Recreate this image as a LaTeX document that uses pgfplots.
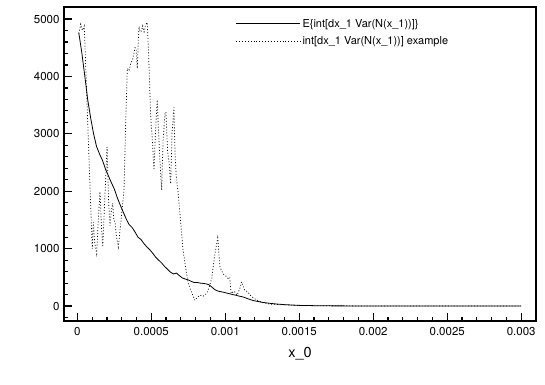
\documentclass[border=0pt]{standalone}
\usepackage{fontspec}
\setmainfont{TeX Gyre Heros}
\usepackage{pgfplots}
\pgfplotsset{compat=1.18}

\pgfplotstableread{
x y
0.00001 4760
0.00003 4420
0.00005 4020
0.00007 3600
0.00009 3280
0.00011 3000
0.00013 2780
0.00015 2650
0.00017 2540
0.00019 2390
0.00021 2270
0.00023 2150
0.00025 2040
0.00027 1890
0.00029 1760
0.00031 1640
0.00033 1520
0.00035 1420
0.00037 1370
0.00039 1290
0.00041 1200
0.00043 1160
0.00045 1090
0.00047 1030
0.00049 980
0.00051 920
0.00053 850
0.00055 800
0.00057 750
0.00059 690
0.00061 640
0.00063 590
0.00065 560
0.00067 575
0.00069 530
0.00071 490
0.00073 470
0.00075 455
0.00077 430
0.00079 410
0.00081 412
0.00083 400
0.00085 395
0.00087 388
0.00089 370
0.00091 330
0.00093 285
0.00095 262
0.00097 250
0.00099 240
0.00101 226
0.00103 215
0.00105 200
0.00107 190
0.00109 176
0.00111 165
0.00113 150
0.00115 130
0.00117 112
0.00119 96
0.00121 85
0.00123 75
0.00125 65
0.00128 55
0.00131 45
0.00135 35
0.0014 25
0.00145 18
0.0015 12
0.0016 7
0.0017 4
0.0018 3
0.002 1
0.0025 0
0.003 0
}\meancurve

\pgfplotstableread{
x y
0.00001 4750
0.000023 4910
0.000034 4800
0.000047 4880
0.000101 1000
0.000108 1460
0.000118 1100
0.000131 910
0.000142 1500
0.000153 1990
0.000163 1400
0.000172 1030
0.000186 1900
0.000201 2770
0.000212 1800
0.000221 1400
0.000230 1650
0.000239 1790
0.000247 1500
0.000255 1460
0.000265 1200
0.000277 1030
0.000296 1500
0.000316 2050
0.000327 3200
0.000338 4140
0.000350 4100
0.000361 4230
0.000372 4280
0.000382 4400
0.000390 4500
0.000397 4490
0.000405 4140
0.000412 4600
0.000417 4870
0.000425 4780
0.000433 4790
0.000442 4880
0.000452 4750
0.000460 4900
0.000473 4940
0.000483 4300
0.000496 3300
0.000507 2900
0.000518 2370
0.000528 3000
0.000540 3590
0.000548 3100
0.000557 2600
0.000570 2020
0.000580 2900
0.000592 3350
0.000599 3380
0.000610 2700
0.000620 2500
0.000631 2130
0.000640 3000
0.000653 3460
0.000660 2700
0.000667 2310
0.000680 2000
0.000694 1610
0.000712 1030
0.000730 700
0.000750 390
0.000770 250
0.000795 100
0.000810 150
0.000829 190
0.000850 170
0.000874 220
0.000890 320
0.000908 480
0.000930 910
0.000949 1190
0.000964 680
0.000975 620
0.000986 560
0.001005 520
0.00102 480
0.00103 500
0.00104 220
0.00106 260
0.00108 190
0.00110 320
0.00111 420
0.00113 280
0.00115 250
0.00118 160
0.00121 110
0.00125 60
0.0013 35
0.0014 20
0.0015 10
0.0017 5
0.002 2
0.0025 0
0.003 0
}\samplecurve

\begin{document}
\begin{tikzpicture}
\begin{axis}[
    name=ax,
    scale only axis,
    width=472pt, height=314pt,
    xmin=-0.00009, xmax=0.0031,
    ymin=-260, ymax=5210,
    axis line style={line width=1.5pt},
    tick pos=left,
    tick align=inside,
    major tick length=8pt,
    minor tick length=4pt,
    every tick/.style={black, line width=1.2pt},
    xtick={0,0.0005,0.001,0.0015,0.002,0.0025,0.003},
    xticklabels={0,0.0005,0.001,0.0015,0.002,0.0025,0.003},
    minor xtick={0.0001,0.0002,0.0003,0.0004,0.0006,0.0007,0.0008,0.0009,
                 0.0011,0.0012,0.0013,0.0014,0.0016,0.0017,0.0018,0.0019,
                 0.0021,0.0022,0.0023,0.0024,0.0026,0.0027,0.0028,0.0029},
    ytick={0,1000,2000,3000,4000,5000},
    minor ytick={-200,200,400,600,800,1200,1400,1600,1800,2200,2400,2600,2800,
                 3200,3400,3600,3800,4200,4400,4600,4800},
    scaled x ticks=false,
    /pgf/number format/1000 sep={},
    /pgf/number format/assume math mode=true,
    ticklabel style={font=\fontsize{11.5}{13}\selectfont},
    xticklabel style={yshift=-3pt},
    yticklabel style={xshift=-1pt},
    xlabel={x\_0},
    xlabel style={font=\fontsize{14.5}{16}\selectfont, yshift=-4pt},
    legend style={draw=none, fill=none, at={(0.357,0.975)}, anchor=north west,
                  font=\fontsize{11}{13}\selectfont, row sep=4pt},
    legend cell align=left,
    legend image code/.code={\draw[#1] (0pt,0pt) -- (64pt,0pt);},
]
\addplot[black, line width=0.8pt] table[x=x, y=y] {\meancurve};
\addlegendentry{E\{int[dx\_1 Var(N(x\_1))]\}}
\addplot[black, line width=0.75pt, dash pattern=on 0.9pt off 2pt] table[x=x, y=y] {\samplecurve};
\addlegendentry{int[dx\_1 Var(N(x\_1))] example}
\end{axis}
\path ([xshift=-64pt,yshift=-64pt]ax.south west) rectangle ([xshift=9pt,yshift=7pt]ax.north east);
\end{tikzpicture}
\end{document}
